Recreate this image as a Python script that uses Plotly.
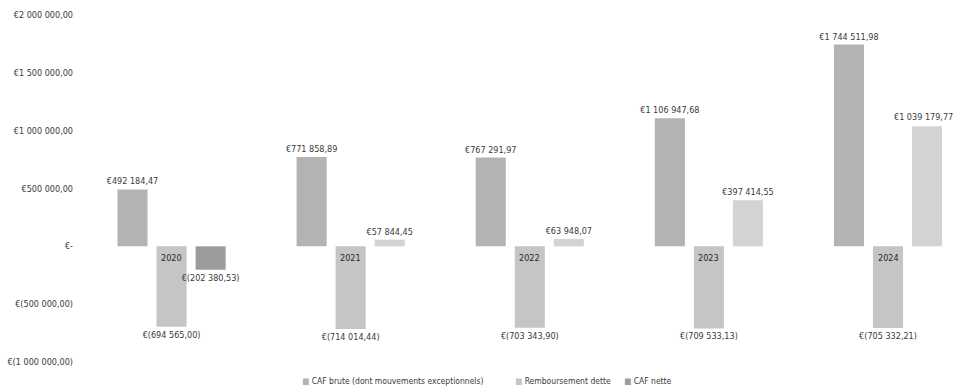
import plotly.graph_objects as go

# Capacité d'autofinancement par exercice
annees = ["2020", "2021", "2022", "2023", "2024"]
caf_brute = [492184.47, 771858.89, 767291.97, 1106947.68, 1744511.98]
remboursement = [-694565.00, -714014.44, -703343.90, -709533.13, -705332.21]
caf_nette = [-202380.53, 57844.45, 63948.07, 397414.55, 1039179.77]

axe_valeurs = [2000000, 1500000, 1000000, 500000, 0, -500000, -1000000]

noms = ["CAF brute (dont mouvements exceptionnels)", "Remboursement dette", "CAF nette"]
couleurs = ["#b3b3b3", "#c5c5c5", "#d3d3d3"]
couleur_negatif = "#9c9c9c"
legende_x = [0.2497, 0.4937, 0.6186]


def euro(v):
    """Format comptable : €1 234,56 / €(1 234,56) / €-"""
    if v == 0:
        return "€-"
    entier, dec = f"{abs(v):,.2f}".split(".")
    corps = entier.replace(",", " ") + "," + dec
    return f"€({corps})" if v < 0 else f"€{corps}"


FONT = "Liberation Sans Narrow, DejaVu Sans Condensed, Arial Narrow, sans-serif"
TXT = "#3a3a3a"

fig = go.Figure()

valeurs = [caf_brute, remboursement, caf_nette]
for k, (nom, vals) in enumerate(zip(noms, valeurs)):
    cols = [couleur_negatif if (k == 2 and v < 0) else couleurs[k] for v in vals]
    textes = [euro(v) for v in vals]
    # la dernière étiquette de CAF nette est calée sur le bord droit (annotation)
    if k == 2:
        textes[-1] = ""
    fig.add_trace(go.Bar(
        name=nom,
        x=list(range(len(annees))),
        y=vals,
        marker=dict(color=cols, line=dict(width=0)),
        text=textes,
        textposition="outside",
        textfont=dict(family=FONT, size=9, color=TXT),
        cliponaxis=False,
        showlegend=False,
    ))

fig.add_annotation(
    x=1, xref="paper", y=caf_nette[-1], yref="y",
    text=euro(caf_nette[-1]), showarrow=False,
    xanchor="right", yanchor="bottom", yshift=2,
    font=dict(family=FONT, size=9, color=TXT),
)

# Libellés d'année posés sur l'axe horizontal (au niveau du zéro)
for i, a in enumerate(annees):
    fig.add_annotation(
        x=i, y=0, xref="x", yref="y",
        text=a, showarrow=False,
        yanchor="top", yshift=-5,
        font=dict(family=FONT, size=9, color="#2a2a2a"),
    )

# Légende en bas du graphique
for nom, c, lx in zip(noms, couleurs[:2] + [couleur_negatif], legende_x):
    fig.add_annotation(
        x=lx, xref="paper", y=-0.055, yref="paper",
        text=f'<span style="color:{c}">■</span> {nom}',
        showarrow=False, xanchor="left", yanchor="middle",
        font=dict(family=FONT, size=8.5, color=TXT),
    )

fig.update_layout(
    width=955, height=389,
    margin=dict(l=82, r=0, t=15, b=27),
    paper_bgcolor="white",
    plot_bgcolor="white",
    barmode="group",
    bargap=0.346,
    bargroupgap=0.23,
    font=dict(family=FONT, size=9, color=TXT),
    uniformtext=dict(minsize=8, mode="show"),
    showlegend=False,
)
fig.update_xaxes(
    range=[-0.5, 4.374],
    showticklabels=False,
    showgrid=False,
    zeroline=False,
    showline=False,
    ticks="",
)
fig.update_yaxes(
    range=[-1000000, 2000000],
    tickvals=axe_valeurs,
    ticktext=[euro(v) for v in axe_valeurs],
    showgrid=False,
    zeroline=False,
    showline=False,
    ticks="",
    ticklabelstandoff=8,
    tickfont=dict(family=FONT, size=9, color=TXT),
)

fig.write_html("out.html")
